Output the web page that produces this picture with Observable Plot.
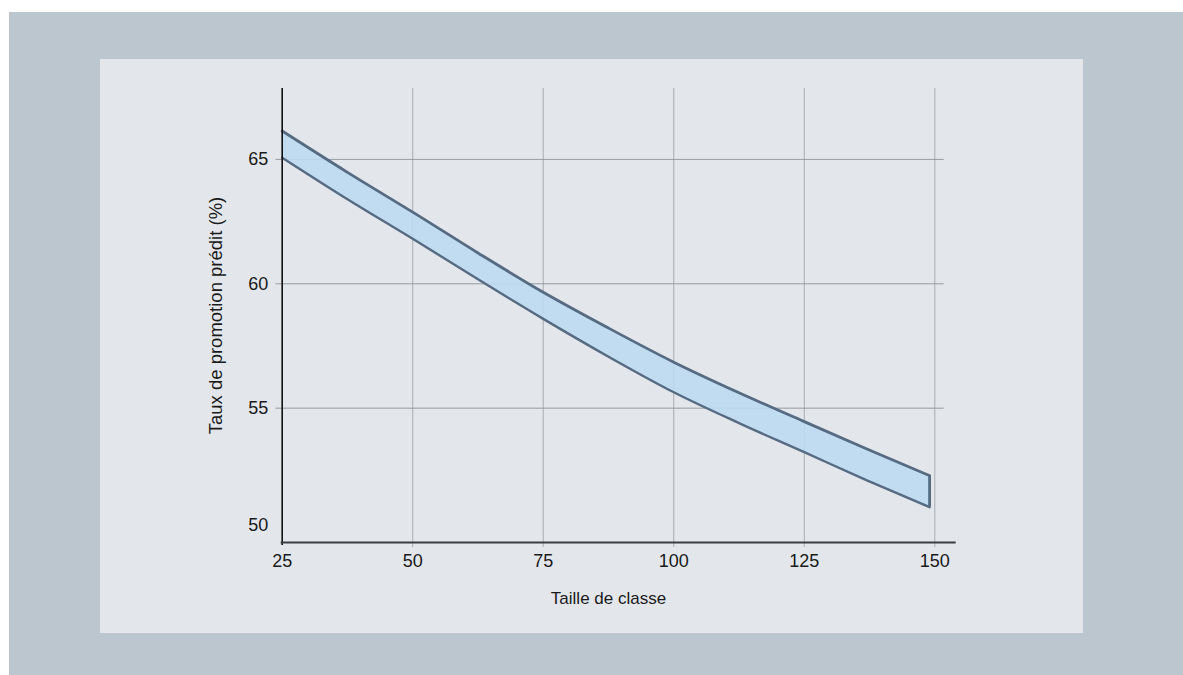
<!DOCTYPE html>
<html>
<head>
<meta charset="utf-8">
<script src="https://cdn.jsdelivr.net/npm/d3@7"></script>
<script src="https://cdn.jsdelivr.net/npm/@observablehq/plot@0.6"></script>
<style>
  html, body { margin: 0; padding: 0; background: #ffffff; width: 1183px; height: 675px; overflow: hidden; }
  #outer { position: absolute; left: 9px; top: 12px; width: 1174px; height: 663px; background: #bcc6ce; }
  #panel { position: absolute; left: 100px; top: 59px; width: 983px; height: 574px; background: #e3e7ec; }
  #panel svg { display: block; }
</style>
</head>
<body>
<div id="outer"></div>
<div id="panel"></div>
<script>
// Data
const classSize = [25, 37.5, 50, 62.5, 75, 87.5, 100, 112.5, 125, 137, 149];
const upperPct  = [66.14, 64.48, 62.88, 61.24, 59.66, 58.22, 56.85, 55.62, 54.46, 53.36, 52.29];
const lowerPct  = [65.07, 63.40, 61.81, 60.18, 58.59, 57.07, 55.64, 54.40, 53.23, 52.10, 51.02];

const xTicks = [25, 50, 75, 100, 125, 150];
const yTicks = [55, 60, 65];
const yTicksLow = [50];

const xTitle = "Taille de classe";
const yTitle = "Taux de promotion prédit (%)";

const band = classSize.map((x, i) => ({x, lo: lowerPct[i], hi: upperPct[i]}));

const xDomain = [25, 154.1];
const yDomain = [49.6, 67.85];

const font = "Liberation Sans, Arial, Helvetica, sans-serif";

const chart = Plot.plot({
  width: 983,
  height: 574,
  marginLeft: 181.7,
  marginRight: 127.3,
  marginTop: 29,
  marginBottom: 91,
  style: {fontFamily: font, fontSize: "18px", background: "transparent", color: "#1a1a1a"},
  x: {domain: xDomain, axis: null},
  y: {domain: yDomain, axis: null},
  marks: [
    // gridlines
    Plot.ruleX(xTicks.slice(1), {y1: 49.4, y2: yDomain[1], stroke: "#9a9fa4", strokeWidth: 1, strokeOpacity: 0.8}),
    Plot.ruleY(yTicks, {x1: 23.8, x2: 151.8, stroke: "#8a8f94", strokeWidth: 1, strokeOpacity: 0.85}),
    // band
    Plot.areaY(band, {x: "x", y1: "lo", y2: "hi", curve: "monotone-x", fill: "#bcdaf1", fillOpacity: 0.9}),
    Plot.line(band, {x: "x", y: "hi", curve: "monotone-x", stroke: "#566b82", strokeWidth: 2.8}),
    Plot.line(band, {x: "x", y: "lo", curve: "monotone-x", stroke: "#566b82", strokeWidth: 2.4}),
    Plot.ruleX([band[band.length - 1]], {x: "x", y1: "lo", y2: "hi", stroke: "#566b82", strokeWidth: 2.8}),
    // axis lines
    Plot.ruleX([xDomain[0]], {y1: 49.48, y2: yDomain[1], stroke: "#111", strokeWidth: 1.6}),
    Plot.ruleY([yDomain[0]], {x1: 24.8, x2: xDomain[1], stroke: "#3a3d42", strokeWidth: 2}),
    // tick labels
    Plot.text(xTicks, {x: d => d, y: yDomain[0], dy: 19, text: d => String(d), fill: "#1a1a1a", fontSize: 18}),
    Plot.text(yTicks, {x: xDomain[0], y: d => d, dx: -14, textAnchor: "end", text: d => String(d), fill: "#1a1a1a", fontSize: 18}),
    Plot.text(yTicksLow, {x: xDomain[0], y: d => d, dx: -14, dy: -7, textAnchor: "end", text: d => String(d), fill: "#1a1a1a", fontSize: 18}),
    // titles
    Plot.text([xTitle], {x: 87.5, y: yDomain[0], dy: 56, text: d => d, fill: "#1a1a1a", fontSize: 17}),
    Plot.text([yTitle], {frameAnchor: "left", textAnchor: "middle", dx: -66, rotate: -90, text: d => d, fill: "#1a1a1a", fontSize: 18.5})
  ]
});
document.getElementById("panel").appendChild(chart);
</script>
</body>
</html>
